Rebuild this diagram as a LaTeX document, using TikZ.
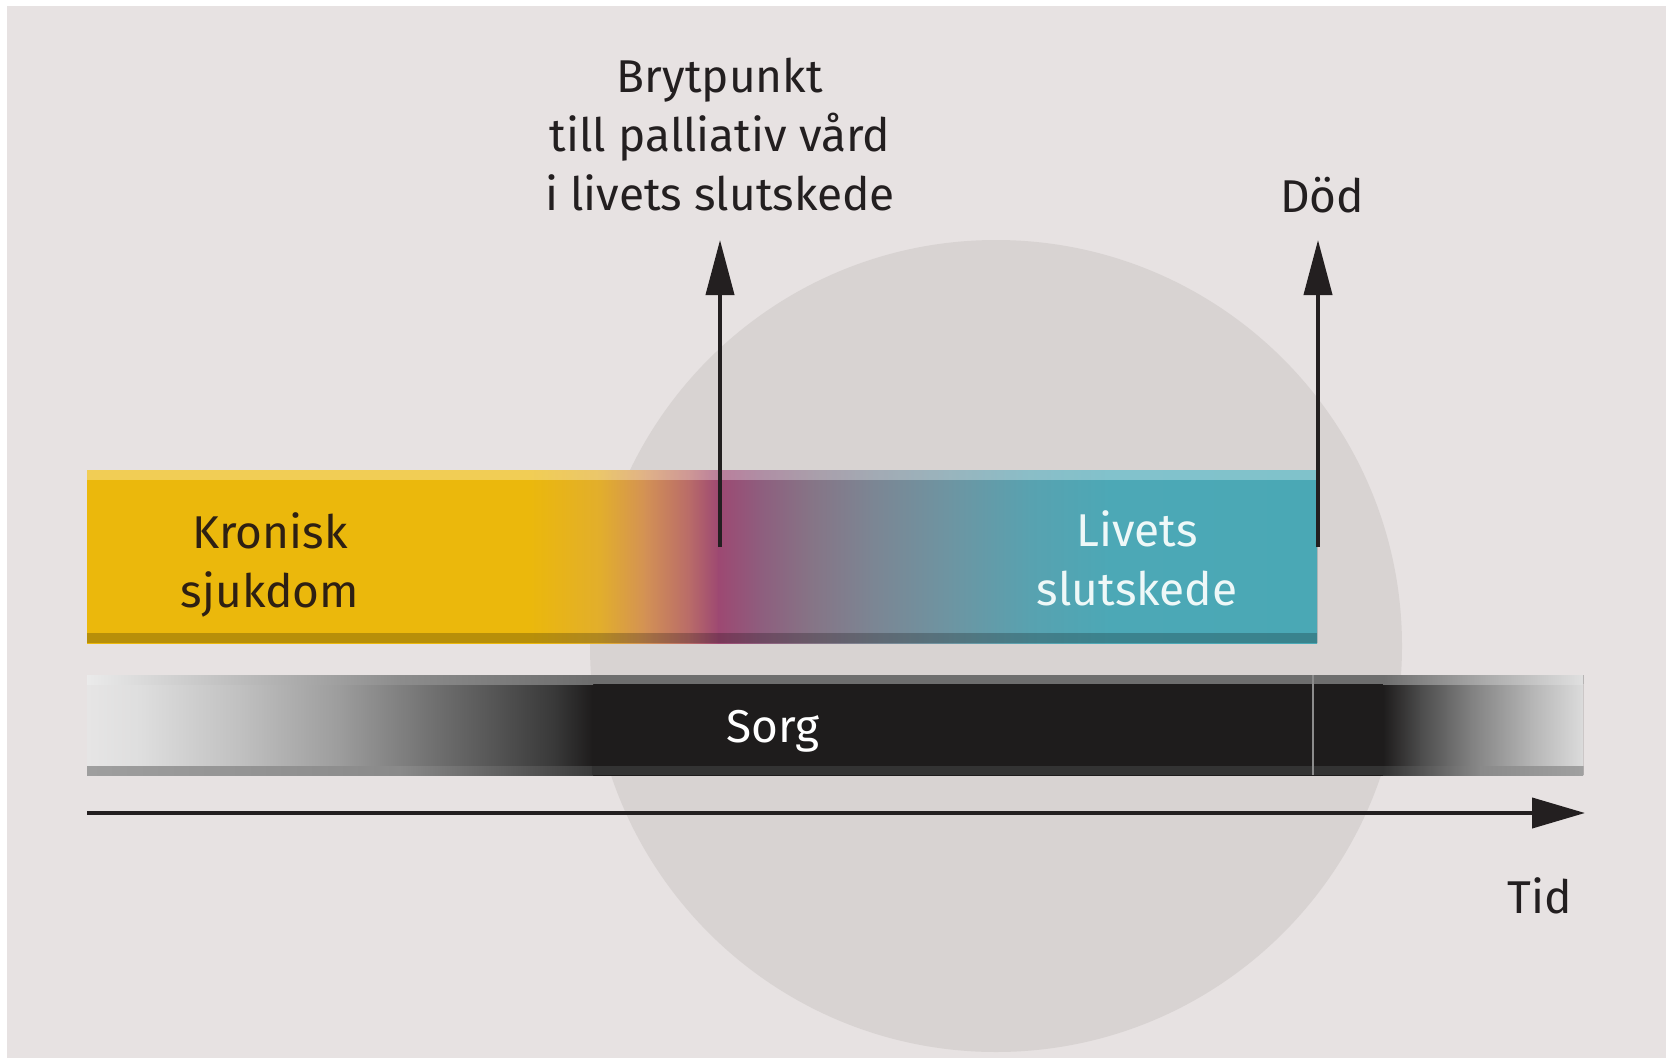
\documentclass[tikz,border=0pt]{standalone}
\usepackage{fontspec}
\setmainfont{Fira Sans}
\usetikzlibrary{arrows.meta}
\definecolor{bg}{HTML}{E7E2E2}
\definecolor{circ}{HTML}{D8D3D2}
\definecolor{ink}{HTML}{231F20}
\definecolor{kron}{HTML}{2E2013}
\definecolor{livc}{HTML}{EEF8F8}
% top bar colours
\definecolor{ta}{HTML}{EBB80C}
\definecolor{tb}{HTML}{E2AE2C}
\definecolor{tc}{HTML}{D39155}
\definecolor{td}{HTML}{B86A69}
\definecolor{te}{HTML}{9D4872}
\definecolor{tf}{HTML}{8E5E7E}
\definecolor{tg}{HTML}{867486}
\definecolor{th}{HTML}{7C8593}
\definecolor{ti}{HTML}{6D95A2}
\definecolor{tj}{HTML}{58A2B0}
\definecolor{tk}{HTML}{4CA8B6}
\definecolor{tl}{HTML}{4AA8B5}
% sorg colours
\definecolor{sa}{HTML}{E6E5E5}
\definecolor{sb}{HTML}{DEDEDE}
\definecolor{sc}{HTML}{C0C0C0}
\definecolor{sd}{HTML}{9C9C9C}
\definecolor{se}{HTML}{767676}
\definecolor{sf}{HTML}{525252}
\definecolor{sg}{HTML}{383838}
\definecolor{sh}{HTML}{1E1C1C}
\definecolor{si}{HTML}{4C4C4C}
\definecolor{sj}{HTML}{808080}
\definecolor{sk}{HTML}{B4B4B4}
\definecolor{sl}{HTML}{DCDCDC}
\newcommand\seg[6]{\fill[left color=#5,right color=#6] (#1,#3) rectangle (#2,#4);}
\begin{document}
\begin{tikzpicture}[x=1pt,y=-1pt,
  lbl/.style={inner sep=0pt,align=center,font=\fontsize{46}{59}\selectfont},
  arr/.style={line width=4pt,draw=ink,-{Triangle[length=55pt,width=28pt]}},
  tarr/.style={line width=4pt,draw=ink,-{Triangle[length=53pt,width=30pt]}}]
\useasboundingbox (0,0) rectangle (1672,1062);
\fill[white] (0,0) rectangle (1672,1062);
\fill[bg] (7,6) rectangle (1666,1058);
\fill[circ] (996,646) circle[radius=406pt];

% ---------- top bar ----------
\begin{scope}
\clip (87,470) rectangle (1317,643);
\seg{87}{531}{470}{643}{ta}{ta}
\seg{530}{601}{470}{643}{ta}{tb}
\seg{600}{646}{470}{643}{tb}{tc}
\seg{645}{691}{470}{643}{tc}{td}
\seg{690}{719}{470}{643}{td}{te}
\seg{718}{761}{470}{643}{te}{tf}
\seg{760}{811}{470}{643}{tf}{tg}
\seg{810}{871}{470}{643}{tg}{th}
\seg{870}{951}{470}{643}{th}{ti}
\seg{950}{1031}{470}{643}{ti}{tj}
\seg{1030}{1111}{470}{643}{tj}{tk}
\seg{1110}{1318}{470}{643}{tk}{tl}
\fill[white,opacity=0.3] (87,470) rectangle (1317,480);
\fill[black,opacity=0.22] (87,633) rectangle (1317,643);
\end{scope}

% ---------- sorg bar ----------
\begin{scope}
\clip (87,675) rectangle (1583,775);
\seg{87}{141}{675}{775}{sa}{sb}
\seg{140}{241}{675}{775}{sb}{sc}
\seg{240}{341}{675}{775}{sc}{sd}
\seg{340}{421}{675}{775}{sd}{se}
\seg{420}{501}{675}{775}{se}{sf}
\seg{500}{556}{675}{775}{sf}{sg}
\seg{555}{593}{675}{775}{sg}{sh}
\seg{592}{1384}{675}{775}{sh}{sh}
\seg{1383}{1421}{675}{775}{sh}{si}
\seg{1420}{1471}{675}{775}{si}{sj}
\seg{1470}{1531}{675}{775}{sj}{sk}
\seg{1530}{1584}{675}{775}{sk}{sl}
% top strip
\fill[left color=black!8,right color=black!45] (87,675) rectangle (401,684);
\fill[left color=black!45,right color=black!57] (400,675) rectangle (593,684);
\fill[black!57] (592,675) rectangle (1384,684);
\fill[left color=black!57,right color=black!34] (1383,675) rectangle (1481,684);
\fill[left color=black!34,right color=black!12] (1480,675) rectangle (1584,684);
% bottom strip
\fill[left color=black!38,right color=black!46] (87,766) rectangle (401,775);
\fill[left color=black!46,right color=black!77] (400,766) rectangle (593,775);
\fill[black!80] (592,766) rectangle (1384,775);
\fill[left color=black!80,right color=black!46] (1383,766) rectangle (1481,775);
\fill[left color=black!46,right color=black!37] (1480,766) rectangle (1584,775);
\end{scope}
\draw[line width=2pt,black!45] (1313,675) -- (1313,775);

% ---------- arrows ----------
\coordinate (b0) at (720,547);
\coordinate (b1) at (720,240);
\coordinate (d0) at (1318,547);
\coordinate (d1) at (1318,240);
\coordinate (t0) at (87,813);
\coordinate (t1) at (1585,813);
\draw[arr] (b0) -- (b1);
\draw[arr] (d0) -- (d1);
\draw[tarr] (t0) -- (t1);

% ---------- labels (base = baseline of last line) ----------
\node[lbl,text=ink,anchor=base] (bryt) at (720,210) {Brytpunkt\\till palliativ vård\\i livets slutskede};
\node[lbl,text=ink,anchor=base] (dod) at (1322,212) {Död};
\node[lbl,text=kron,anchor=base] (kron) at (270,607) {Kronisk\\sjukdom};
\node[lbl,text=livc,anchor=base] (liv) at (1137,605) {Livets\\slutskede};
\node[lbl,text=white,anchor=base] (sorg) at (773,742) {Sorg};
\node[lbl,text=ink,anchor=base] (tid) at (1540,913) {Tid};
\end{tikzpicture}
\end{document}
